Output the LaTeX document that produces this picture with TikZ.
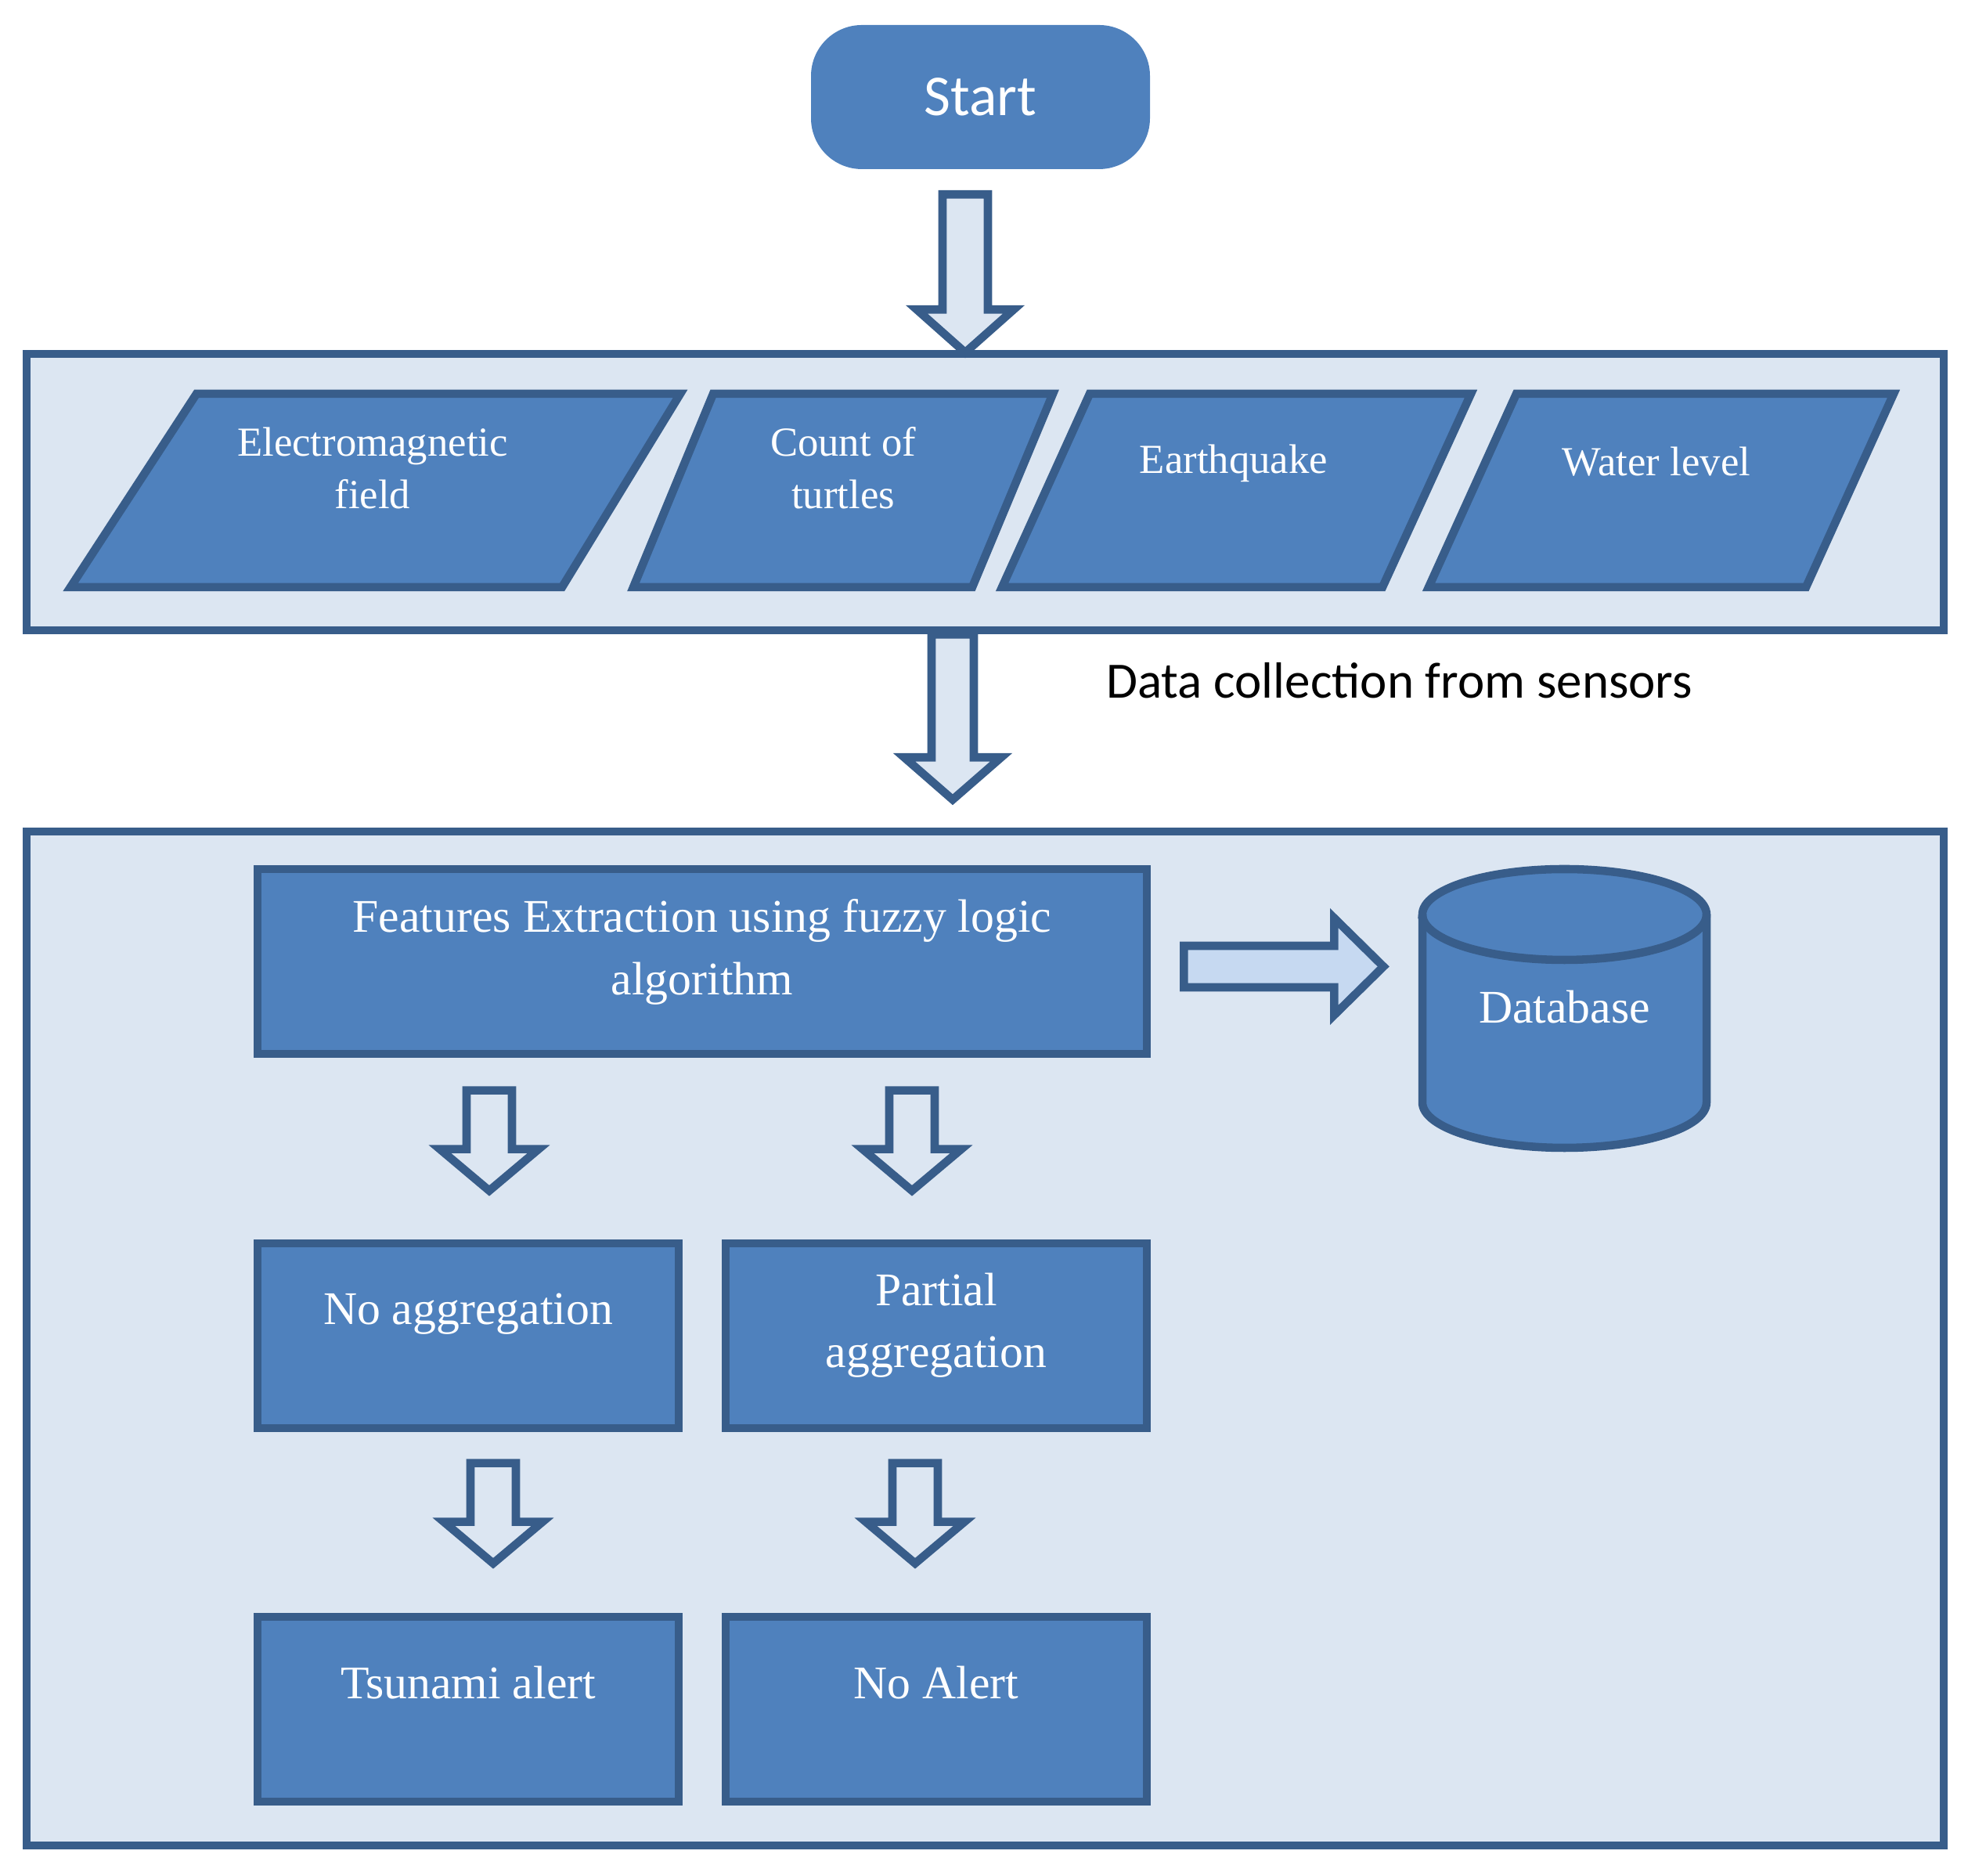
\documentclass[tikz,border=0pt]{standalone}
\usepackage{fontspec}
\setmainfont{Liberation Serif}
\newfontfamily\calibri{Carlito}
\usepackage{tikz}
\usetikzlibrary{calc}

\definecolor{boxblue}{HTML}{4F81BD}
\definecolor{edgeblue}{HTML}{385D8A}
\definecolor{paleblue}{HTML}{DCE6F2}
\definecolor{lightblue}{HTML}{C6D9F1}

\begin{document}
\begin{tikzpicture}[line width=3pt, line join=miter,
  panel/.style={draw=edgeblue, fill=paleblue, minimum width=24.49cm},
  main node/.style={draw=edgeblue, fill=boxblue, text=white, align=center, inner sep=0pt,
                    font=\fontsize{17}{22.5}\selectfont},
  small node/.style={main node, minimum width=5.38cm, minimum height=2.36cm},
  sensor/.style={draw=edgeblue, fill=boxblue},
  sensor text/.style={text=white, align=center, inner sep=0pt, font=\fontsize{15}{19}\selectfont},
  hollow/.style={draw=edgeblue, fill=paleblue}]
\useasboundingbox (0,0) rectangle (25.14,23.96);

\node[fill=boxblue, rounded corners=0.65cm, minimum width=4.33cm, minimum height=1.84cm,
      text=white, font=\calibri\fontsize{21}{25}\selectfont] (start) at (12.525,22.72) {Start};

\node[panel, minimum height=3.53cm]  (sensors) at (12.585,17.675) {};
\node[panel, minimum height=12.95cm] (process) at (12.585,6.865) {};

% sensor inputs
\filldraw[sensor] (0.90,16.46) -- (2.51,18.93) -- (8.69,18.93) -- (7.18,16.46) -- cycle;
\filldraw[sensor] (8.09,16.46) -- (9.11,18.93) -- (13.45,18.93) -- (12.42,16.46) -- cycle;
\filldraw[sensor] (12.80,16.46) -- (13.92,18.93) -- (18.79,18.93) -- (17.66,16.46) -- cycle;
\filldraw[sensor] (18.25,16.46) -- (19.37,18.93) -- (24.19,18.93) -- (23.07,16.46) -- cycle;
\node[sensor text] (emf)    at (4.76,17.98)  {Electromagnetic\\field};
\node[sensor text] (turtle) at (10.77,17.98) {Count of\\turtles};
\node[sensor text] (quake)  at (15.76,18.04) {Earthquake};
\node[sensor text] (water)  at (21.16,18.06) {Water level};

\node[anchor=west, inner sep=0pt, font=\calibri\fontsize{18.5}{22}\selectfont]
  (caption) at (14.08,15.27) {Data collection from sensors};

% processing
\node[main node, minimum width=11.36cm, minimum height=2.36cm] (feat) at (8.97,11.68)
  {Features Extraction using fuzzy logic\\algorithm\rule[-0.37cm]{0pt}{0pt}};
\node[small node, text depth=0.68cm] (noagg) at (5.98,6.90) {No aggregation};
\node[small node, right of=noagg, node distance=5.98cm] (partial) {Partial\\aggregation\rule[-0.39cm]{0pt}{0pt}};
\node[small node, text depth=0.68cm, below of=noagg, node distance=4.77cm] (tsunami) {Tsunami alert};
\node[small node, text depth=0.68cm, right of=tsunami, node distance=5.98cm] (noalert) {No Alert};

% database
\filldraw[sensor] (18.17,12.28) -- (18.17,9.88)
  arc[start angle=180, end angle=360, x radius=1.815cm, y radius=0.58cm] -- (21.80,12.28)
  arc[start angle=0, end angle=180, x radius=1.815cm, y radius=0.58cm] -- cycle;
\draw[edgeblue] (18.17,12.28) arc[start angle=180, end angle=360, x radius=1.815cm, y radius=0.58cm];
\node[text=white, font=\fontsize{17}{22}\selectfont] (db) at (19.985,11.10) {Database};

% block arrows
\filldraw[hollow] ($(start.south)+(-0.195,-0.27)$) ++(-0.29,0) -- ++(0,-1.47) -- ++(-0.33,0)
  -- ++(0.62,-0.55) -- ++(0.62,0.55) -- ++(-0.33,0) -- ++(0,1.47) -- cycle;
\filldraw[hollow] ($(sensors.south)+(-0.415,0)$) ++(-0.27,0) -- ++(0,-1.57) -- ++(-0.35,0)
  -- ++(0.62,-0.54) -- ++(0.62,0.54) -- ++(-0.35,0) -- ++(0,1.57) -- cycle;
\filldraw[draw=edgeblue, fill=lightblue] ($(feat.east)+(0.42,-0.065)$) ++(0,0.265) -- ++(1.92,0)
  -- ++(0,0.355) -- ++(0.63,-0.62) -- ++(-0.63,-0.62) -- ++(0,0.355) -- ++(-1.92,0) -- cycle;
\filldraw[hollow] ($(noagg.north)+(0.27,1.90)$) ++(-0.29,0) -- ++(0,-0.75) -- ++(-0.34,0)
  -- ++(0.63,-0.53) -- ++(0.63,0.53) -- ++(-0.34,0) -- ++(0,0.75) -- cycle;
\filldraw[hollow] ($(partial.north)+(-0.31,1.90)$) ++(-0.29,0) -- ++(0,-0.75) -- ++(-0.34,0)
  -- ++(0.63,-0.53) -- ++(0.63,0.53) -- ++(-0.34,0) -- ++(0,0.75) -- cycle;
\filldraw[hollow] ($(tsunami.north)+(0.32,1.91)$) ++(-0.29,0) -- ++(0,-0.75) -- ++(-0.34,0)
  -- ++(0.63,-0.53) -- ++(0.63,0.53) -- ++(-0.34,0) -- ++(0,0.75) -- cycle;
\filldraw[hollow] ($(noalert.north)+(-0.27,1.91)$) ++(-0.29,0) -- ++(0,-0.75) -- ++(-0.34,0)
  -- ++(0.63,-0.53) -- ++(0.63,0.53) -- ++(-0.34,0) -- ++(0,0.75) -- cycle;
\end{tikzpicture}
\end{document}
